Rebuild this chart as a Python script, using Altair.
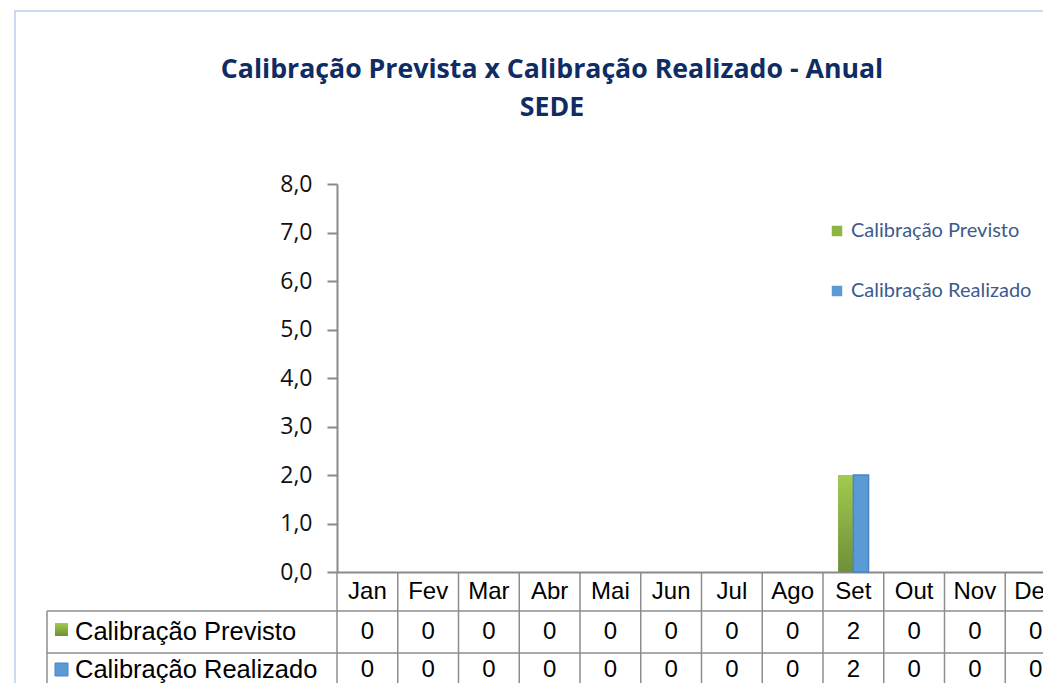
import altair as alt
import pandas as pd

months = ["Jan", "Fev", "Mar", "Abr", "Mai", "Jun", "Jul", "Ago", "Set", "Out", "Nov", "Dez"]
series_names = ["Calibração Previsto", "Calibração Realizado"]
previsto = [0, 0, 0, 0, 0, 0, 0, 0, 2, 0, 0, 0]
realizado = [0, 0, 0, 0, 0, 0, 0, 0, 2, 0, 0, 0]
y_ticks = [0, 1, 2, 3, 4, 5, 6, 7, 8]
title_lines = ["Calibração Prevista x Calibração Realizado - Anual", "SEDE"]

GREEN = "#8DB543"
BLUE = "#5B9BD5"
GRID = "#8E8E8E"
green_grad = {
    "gradient": "linear", "x1": 0, "y1": 0, "x2": 0, "y2": 1,
    "stops": [{"offset": 0, "color": "#A2CB4E"}, {"offset": 1, "color": "#6F8F38"}],
}

rows = []
for m, p, r in zip(months, previsto, realizado):
    rows.append({"month": m, "series": series_names[0], "value": p})
    rows.append({"month": m, "series": series_names[1], "value": r})
df = pd.DataFrame(rows)
mdf = pd.DataFrame({"month": months})
one = pd.DataFrame({"k": [0]})
tdf = pd.DataFrame({"line": title_lines})

xscale = alt.Scale(domain=months, range=[0, 729], paddingInner=0, paddingOuter=0)
xoff = alt.XOffset("series:N", scale=alt.Scale(domain=series_names, paddingInner=0, paddingOuter=1))
yscale = alt.Scale(domain=[0, 8])

X = alt.X("month:N", scale=xscale, sort=months,
          axis=alt.Axis(title=None, labels=False, ticks=False, domain=True,
                        domainColor="#8A8A8A", domainWidth=2, grid=False))
Y = alt.Y("value:Q", scale=yscale,
          axis=alt.Axis(title=None, values=y_ticks, grid=False,
                        labelExpr="replace(format(datum.value, '.1f'), '.', ',')",
                        labelFont="Open Sans", labelFontSize=23, labelColor="#111111",
                        labelPadding=15, tickSize=10, tickWidth=2, tickColor="#8A8A8A",
                        domainColor="#8A8A8A", domainWidth=2))

base = alt.Chart(df).transform_filter("datum.value > 0")

bars = base.mark_bar().encode(
    x=X, xOffset=xoff, y=Y,
    color=alt.Color("series:N", scale=alt.Scale(domain=series_names, range=[GREEN, BLUE]),
                    legend=alt.Legend(title=None, orient="none", legendX=490, legendY=37,
                                      symbolType="square", symbolSize=110, symbolStrokeWidth=0,
                                      labelFont="Lato", labelFontSize=20, labelColor="#3D5B8C",
                                      labelLimit=0, rowPadding=40, labelOffset=4)),
)
green_bar = base.transform_filter(alt.datum.series == series_names[0]).mark_bar(
    color=green_grad).encode(x=X, xOffset=xoff, y=Y)
blue_bar = base.transform_filter(alt.datum.series == series_names[1]).mark_bar(
    color=BLUE, stroke="#4A85C6", strokeWidth=1.5).encode(x=X, xOffset=xoff, y=Y)

# frame of the chart area
frame = alt.Chart(one).mark_rect(fill=None, stroke="#C9DBF0", strokeWidth=2).encode(
    x=alt.value(-322), x2=alt.value(900), y=alt.value(-173), y2=alt.value(700))

# title
ttl = dict(font="Open Sans", fontSize=26.7, fontWeight="bold", color="#0F2C63", baseline="middle")
title1 = alt.Chart(tdf).transform_filter(alt.datum.line == title_lines[0]).mark_text(**ttl).encode(
    x=alt.value(215), y=alt.value(-114), text="line:N")
title2 = alt.Chart(tdf).transform_filter(alt.datum.line == title_lines[1]).mark_text(**ttl).encode(
    x=alt.value(215), y=alt.value(-76), text="line:N")

# table grid
vlines = alt.Chart(mdf).mark_rule(color=GRID, strokeWidth=1.5).encode(
    x=alt.X("month:N", scale=xscale, sort=months, bandPosition=0),
    y=alt.value(388), y2=alt.value(520))
hline1 = alt.Chart(one).mark_rule(color=GRID, strokeWidth=1.5).encode(
    x=alt.value(-290), x2=alt.value(760), y=alt.value(427))
hline2 = alt.Chart(one).mark_rule(color=GRID, strokeWidth=1.5).encode(
    x=alt.value(-290), x2=alt.value(760), y=alt.value(469))
lline = alt.Chart(one).mark_rule(color=GRID, strokeWidth=1.5).encode(
    x=alt.value(-290), y=alt.value(427), y2=alt.value(520))

tfont = dict(font="Liberation Sans", fontSize=24, color="#000000")
header = alt.Chart(mdf).mark_text(baseline="middle", **tfont).encode(
    x=alt.X("month:N", scale=xscale, sort=months), y=alt.value(408), text="month:N")
row1 = alt.Chart(df).transform_filter(alt.datum.series == series_names[0]).mark_text(
    baseline="middle", **tfont).encode(
    x=alt.X("month:N", scale=xscale, sort=months), y=alt.value(448), text="value:Q")
row2 = alt.Chart(df).transform_filter(alt.datum.series == series_names[1]).mark_text(
    baseline="middle", **tfont).encode(
    x=alt.X("month:N", scale=xscale, sort=months), y=alt.value(486), text="value:Q")

lab_df = pd.DataFrame({"series": series_names})
lfont = dict(font="Liberation Sans", fontSize=25.5, color="#000000")
lab1 = alt.Chart(lab_df).transform_filter(alt.datum.series == series_names[0]).mark_text(
    align="left", baseline="middle", **lfont).encode(
    x=alt.value(-262), y=alt.value(448), text="series:N")
lab2 = alt.Chart(lab_df).transform_filter(alt.datum.series == series_names[1]).mark_text(
    align="left", baseline="middle", **lfont).encode(
    x=alt.value(-262), y=alt.value(486), text="series:N")
key1 = alt.Chart(one).mark_rect(color=green_grad).encode(
    x=alt.value(-282), x2=alt.value(-269), y=alt.value(439), y2=alt.value(452))
key2 = alt.Chart(one).mark_rect(color=BLUE, stroke="#4A85C6", strokeWidth=1).encode(
    x=alt.value(-282), x2=alt.value(-269), y=alt.value(479), y2=alt.value(492))

chart = alt.layer(
    frame, title1, title2, bars, green_bar, blue_bar, vlines, hline1, hline2, lline,
    header, row1, row2, lab1, lab2, key1, key2,
).properties(
    width=706, height=388,
    padding={"left": 329, "top": 176, "right": 0, "bottom": 111},
    autosize=alt.AutoSizeParams(type="none"),
).configure(background="white").configure_view(stroke=None)

chart.save("out.html", embed_options={"renderer": "svg", "actions": False})
